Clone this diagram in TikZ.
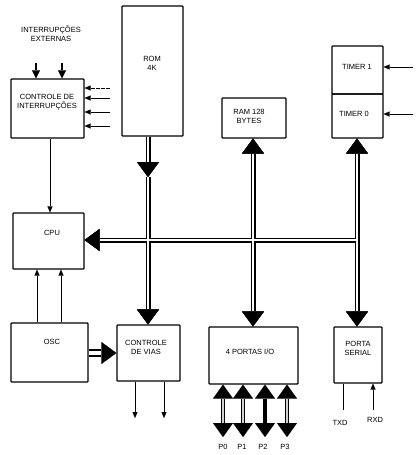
\documentclass[tikz,border=0pt]{standalone}
\usepackage{fontspec}
\setmainfont{Liberation Sans}
\usetikzlibrary{arrows.meta,calc}
\begin{document}
\begin{tikzpicture}[x=1pt,y=-1pt,
  box/.style={draw, line width=1.2pt, rounded corners=0.8pt, inner sep=0pt},
  sz/.style 2 args={minimum width=#1pt, minimum height=#2pt},
  txt/.style={font=\fontsize{7.5}{9}\selectfont, align=center, inner sep=0pt},
  bigtip/.tip={Triangle[width=22pt,length=15pt,line width=0.01pt]},
  bigtipK/.tip={Triangle[width=22pt,length=15pt,line width=0.01pt,color=black,fill=black]},
  busout/.style={draw=black, line width=5pt, line cap=butt},
  busin/.style={draw=white, line width=2.3pt, line cap=butt},
  thin/.style={draw, line width=0.9pt, -{Triangle[width=5pt,length=6pt,line width=0.01pt]}},
  thick/.style={draw, line width=1.8pt, -{Triangle[width=8pt,length=8pt,line width=0.01pt]}},
  portout/.style={draw=black, line width=4.2pt, line cap=butt,
    -{Triangle[width=20pt,length=14pt,line width=0.01pt]}},
  portin/.style={draw=gray!35, line width=1.8pt, line cap=butt, shorten >=14pt},
]
\useasboundingbox (0,0) rectangle (420,455);

% boxes
\node[box, sz={73}{59}] (intc) at (47.5,108.5) {};
\node[box, sz={61}{130}] (rom) at (152.5,71) {};
\node[box, sz={64}{40}] (ram) at (254,118) {};
\node[box, sz={51}{48}] (timer1) at (357.5,70) {};
\node[box, sz={51}{44}] (timer0) at (357.5,116) {};
\node[box, sz={71}{56}] (cpu) at (48.5,241) {};
\node[box, sz={77}{59}] (osc) at (49.5,352.5) {};
\node[box, sz={63}{56}] (vias) at (148.5,353) {};
\node[box, sz={89}{57}] (io) at (253.5,355.5) {};
\node[box, sz={48}{56}] (serial) at (358,355) {};

% texts
\node[txt] (ext) at (51,33.5) {INTERRUPÇÕES\\EXTERNAS};
\node[txt] at (47,102) {CONTROLE DE\\ INTERRUPÇÕES};
\node[txt] at (152,63) {ROM\\4K};
\node[txt] at (249,116) {RAM 128\\BYTES};
\node[txt] at (357,67) {TIMER 1};
\node[txt] at (354,114) {TIMER 0};
\node[txt] at (52,233) {CPU};
\node[txt] at (52,342) {OSC};
\node[txt] at (146,347) {CONTROLE\\DE VIAS};
\node[txt] at (250,352) {4 PORTAS I/O};
\node[txt] at (358,348) {PORTA\\SERIAL};
\node[txt] at (340,423) {TXD};
\node[txt] at (375,420) {RXD};

% bus coordinates
\coordinate (jR) at (148,240);
\coordinate (jM) at (253,240);
\coordinate (jT) at (357,240);
\coordinate (romtip) at (148,177);

\newcommand\drawbus[2]{%
  \draw[#1,-{#2}] (rom.south -| jR) -- (romtip);
  \draw[#1,-{#2}] (romtip) -- (vias.north -| jR);
  \draw[#1,-{#2}] (jM) -- (ram.south -| jM);
  \draw[#1,-{#2}] (jM) -- (io.north -| jM);
  \draw[#1,-{#2}] (jT) -- (timer0.south -| jT);
  \draw[#1,-{#2}] (jT) -- (serial.north -| jT);
  \draw[#1,-{#2}] (jT) -- (cpu.east |- jT);
}
\drawbus{busout}{bigtip}
\drawbus{busin}{bigtipK}

% external interrupts
\coordinate (e1) at (36,63);
\coordinate (e2) at (62,63);
\draw[thick] (e1) -- (intc.north -| e1);
\draw[thick] (e2) -- (intc.north -| e2);

% right-side interrupt inputs
\coordinate (r1) at (110,88);
\coordinate (r2) at (110,98);
\coordinate (r3) at (110,112);
\coordinate (r4) at (110,126);
\draw[thin, dash pattern=on 4pt off 1pt] (r1) -- (intc.east |- r1);
\draw[thin] (r2) -- (intc.east |- r2);
\draw[thin] (r3) -- (intc.east |- r3);
\draw[thin] (r4) -- (intc.east |- r4);

% intc -> cpu
\draw[thin] (intc.south -| 50,0) -- (cpu.north -| 50,0);

% osc -> cpu
\draw[thin] (osc.north -| 37,0) -- (cpu.south -| 37,0);
\draw[thin] (osc.north -| 61,0) -- (cpu.south -| 61,0);

% osc -> vias (hollow)
\draw[draw=black, double=white, line width=1.5pt, double distance=4.5pt,
      -{Triangle[width=22pt,length=15pt,line width=0.01pt]}]
      (osc.east |- 0,353) -- (vias.west |- 0,353);

% vias outputs
\coordinate (v1) at (135,418);
\coordinate (v2) at (164,418);
\draw[thin] (vias.south -| v1) -- (v1);
\draw[thin] (vias.south -| v2) -- (v2);

% timer inputs
\coordinate (t1) at (413,67);
\coordinate (t0) at (413,114);
\draw[thin] (t1) -- (timer1.east |- t1);
\draw[thin] (t0) -- (timer0.east |- t0);

% serial
\coordinate (txd) at (343,410);
\coordinate (rxd) at (373,410);
\draw[line width=0.9pt] (serial.south -| txd) -- (txd);
\draw[thin] (rxd) -- (serial.south -| rxd);

% ports (bidirectional: drawn from the shaft middle to both ends)
\coordinate (p0) at (223,437);
\coordinate (p1) at (243,437);
\coordinate (p2) at (265,437);
\coordinate (p3) at (287,437);
\foreach \p in {p0,p1,p2,p3}{
  \coordinate (\p m) at ($(io.south -| \p)!0.5!(\p)$);
  \draw[portout] (\p m) -- (io.south -| \p);
  \draw[portout] (\p m) -- (\p);
}
\foreach \p in {p0,p1,p3}{
  \draw[portin] (\p m) -- (io.south -| \p);
  \draw[portin] (\p m) -- (\p);
}
\node[txt] at (223,447) {P0};
\node[txt] at (242,447) {P1};
\node[txt] at (263,447) {P2};
\node[txt] at (285,447) {P3};
\end{tikzpicture}
\end{document}
